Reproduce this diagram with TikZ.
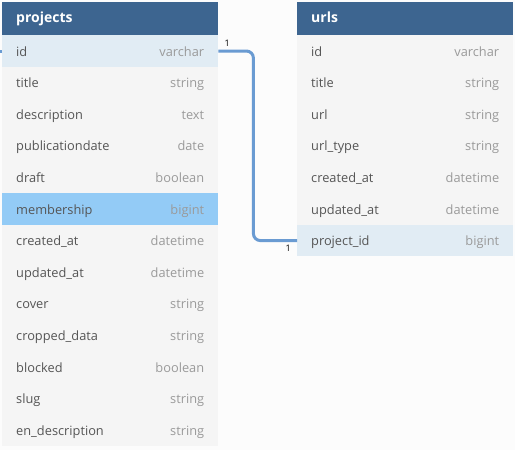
\documentclass[tikz,border=0pt]{standalone}
\usepackage{fontspec}
\setmainfont{Open Sans}
\usetikzlibrary{positioning}
\definecolor{hdrblue}{HTML}{3D6590}
\definecolor{rowgray}{HTML}{F5F5F5}
\definecolor{keyblue}{HTML}{E1ECF4}
\definecolor{selblue}{HTML}{93CBF6}
\definecolor{namegray}{HTML}{555555}
\definecolor{typegray}{HTML}{9A9A9A}
\definecolor{linkblue}{HTML}{6A9BD2}
\definecolor{canvas}{HTML}{FCFCFC}
\tikzset{tablehead/.style={fill=hdrblue, minimum width=216pt, minimum height=33pt,
        inner xsep=14pt, inner ysep=0pt, text width=188pt, align=left, anchor=north west,
        text height=11pt, text depth=3pt,
        text=white, font=\fontsize{14}{16}\selectfont\bfseries},
    fieldrow/.style={fill=rowgray, minimum width=216pt, minimum height=31.6pt,
        inner xsep=14pt, inner ysep=0pt, text width=188pt, align=left, anchor=north west,
        text height=12pt, text depth=2pt},
    keyrow/.style={fieldrow, fill=keyblue},
    selrow/.style={fieldrow, fill=selblue},
    link/.style={draw=linkblue, line width=3pt, rounded corners=7pt},
    card/.style={inner sep=1pt, font=\fontsize{9}{10}\selectfont}}
\newcommand{\fld}[2]{\textcolor{namegray}{#1}\hfill\textcolor{typegray}{#2}}

\begin{document}
\begin{tikzpicture}[x=1pt, y=-1pt, font=\fontsize{12.8}{15}\selectfont]
    \useasboundingbox[fill=canvas] (0,0) rectangle (515,450);

    % projects table
    \node[tablehead] (projects) at (2,2) {projects};
    \node[keyrow] (p0) at (2,35) {\fld{id}{varchar}};
    \foreach \n/\t [count=\i] in {title/string, description/text,
        publicationdate/date, draft/boolean}
        \node[fieldrow] (p\i) at (2,35+31.6*\i) {\fld{\n}{\t}};
    \node[selrow] (p5) at (2,35+31.6*5) {\fld{membership}{bigint}};
    \foreach \n/\t [count=\i from 6] in {created\_at/datetime, updated\_at/datetime,
        cover/string, cropped\_data/string, blocked/boolean, slug/string,
        en\_description/string}
        \node[fieldrow] (p\i) at (2,35+31.6*\i) {\fld{\n}{\t}};

    % urls table
    \node[tablehead] (urls) at (297,2) {urls};
    \foreach \n/\t [count=\i from 0] in {id/varchar, title/string, url/string,
        url\_type/string, created\_at/datetime, updated\_at/datetime}
        \node[fieldrow] (u\i) at (297,35+31.6*\i) {\fld{\n}{\t}};
    \node[keyrow] (u6) at (297,35+31.6*6) {\fld{project\_id}{bigint}};

    % relation
    \draw[link] (p0.east) -- ++(35,0) |- (u6.west);
    \draw[link] (p0.west) -- ++(-4,0);
    \node[card, anchor=south west] at ([xshift=5pt, yshift=3pt]p0.east) {1};
    \node[card, anchor=north east] at ([xshift=-5pt, yshift=-3pt]u6.west) {1};
\end{tikzpicture}
\end{document}
